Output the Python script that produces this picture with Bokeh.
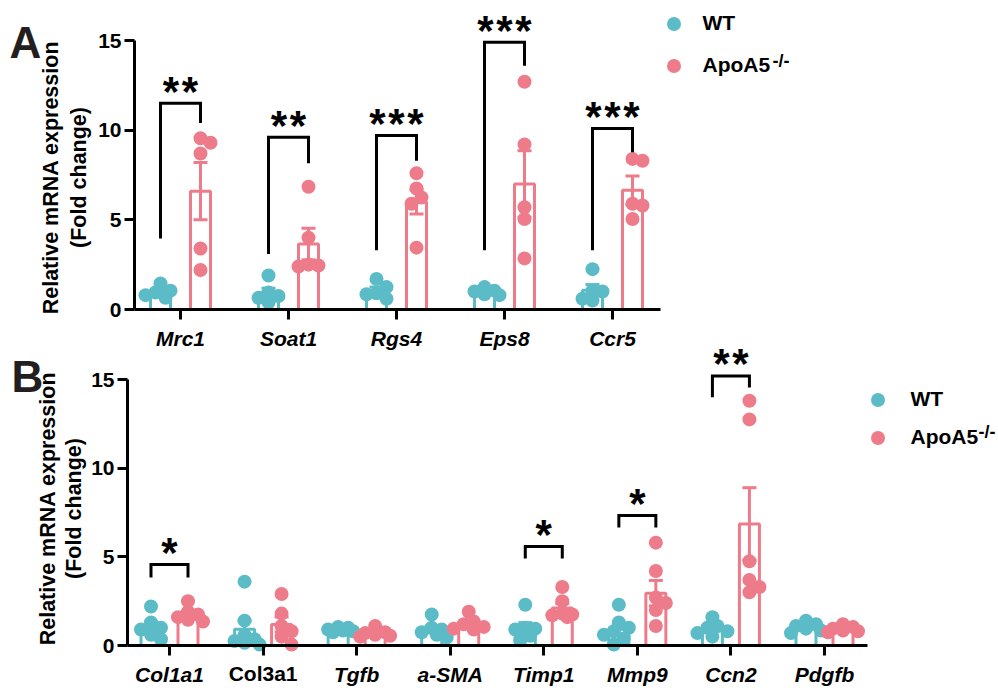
import numpy as np
from bokeh.plotting import figure
from bokeh.models import (Range1d, FixedTicker, Legend, LegendItem, Label, LinearAxis)
from bokeh.embed import file_html
from bokeh.resources import INLINE
from bokeh.core.properties import value

TEAL = "#5BBCC8"
PINK = "#EE7B8A"
FONT = "Liberation Sans"
W, H = 998, 688

# ---------------- Panel A data ----------------
genes_a = ["Mrc1", "Soat1", "Rgs4", "Eps8", "Ccr5"]
wt_a = [
    [1.45, 1.05, 0.95, 0.8, 0.65],
    [1.9, 0.95, 0.75, 0.65, 0.4],
    [1.7, 1.25, 0.9, 0.85, 0.6],
    [1.25, 1.05, 1.0, 0.85, 0.8],
    [2.25, 1.05, 1.0, 0.6, 0.5],
]
ko_a = [
    [9.55, 9.3, 8.7, 3.4, 2.2],
    [6.85, 4.0, 2.5, 2.45, 2.4],
    [7.6, 6.75, 6.25, 5.9, 3.45],
    [12.7, 9.2, 5.7, 5.05, 2.85],
    [8.4, 8.3, 5.9, 5.8, 5.05],
]
wt_mean_a = [0.98, 0.93, 1.06, 0.99, 1.08]
wt_sem_a = [0.14, 0.26, 0.19, 0.08, 0.31]
ko_mean_a = [6.6, 3.65, 6.0, 7.0, 6.65]
ko_sem_a = [1.6, 0.88, 0.68, 1.85, 0.8]
sig_a = [0, 1, 2, 3, 4]
br_left_a = [3.96, 3.1, 3.3, 3.3, 3.3]
br_top_a = [11.5, 9.6, 9.7, 14.9, 10.1]
br_right_a = [10.4, 8.15, 8.3, 13.6, 8.77]
stars_a = ["**", "**", "***", "***", "***"]

# ---------------- Panel B data ----------------
genes_b = ["Col1a1", "Col3a1", "Tgfb", "a-SMA", "Timp1", "Mmp9", "Ccn2", "Pdgfb"]
wt_b = [
    [2.2, 1.3, 1.0, 0.9, 0.6, 0.35],
    [3.6, 1.4, 0.6, 0.35, 0.25, 0.15, 0.05],
    [1.05, 1.0, 0.9, 0.85, 0.8, 0.75],
    [1.75, 1.0, 0.9, 0.75, 0.6, 0.45],
    [2.3, 1.0, 0.95, 0.9, 0.55, 0.3],
    [2.3, 1.3, 1.0, 0.8, 0.6, 0.4, 0.05],
    [1.6, 1.1, 1.0, 0.8, 0.7, 0.5],
    [1.4, 1.2, 1.1, 0.95, 0.85, 0.7],
]
ko_b = [
    [2.5, 1.9, 1.75, 1.6, 1.45, 1.35],
    [2.9, 1.8, 1.1, 0.8, 0.5, 0.05],
    [1.1, 0.75, 0.7, 0.6, 0.55, 0.5],
    [1.9, 1.35, 1.2, 1.05, 0.95, 0.9],
    [3.3, 2.5, 1.8, 1.75, 1.7, 1.6],
    [5.8, 4.2, 2.7, 2.4, 2.0, 1.1],
    [13.8, 12.75, 4.75, 3.7, 3.3, 3.0],
    [1.2, 1.05, 0.95, 0.85, 0.8, 0.75],
]
wt_mean_b = [1.06, 0.91, 0.89, 0.91, 1.0, 0.92, 0.95, 1.03]
wt_sem_b = [0.26, 0.48, 0.05, 0.19, 0.29, 0.28, 0.16, 0.1]
ko_mean_b = [1.76, 1.19, 0.7, 1.23, 2.11, 2.95, 6.85, 0.93]
ko_sem_b = [0.17, 0.42, 0.09, 0.15, 0.27, 0.72, 2.05, 0.07]
sig_b = [0, 4, 5, 6]
br_left_b = [3.83, 4.9, 6.66, 14.0]
br_top_b = [4.57, 5.58, 7.33, 15.2]
br_right_b = [3.83, 4.9, 6.66, 14.55]
stars_b = ["*", "*", "*", "**"]

y_ticks = [0, 5, 10, 15]
legend_labels = ["WT", "ApoA5"]
legend_sup = "-/-"
ylabel_lines = ["Relative mRNA expression", "(Fold change)"]

# ---------------- layout (page pixels) ----------------
LAY_A = dict(x_first=180, ppx=108.0, y_zero=309, ppy=17.93, axis_left=134, axis_right=660,
             dodge_px=20, bar_px=20, letter="A", letter_xy=(9, 42),
             ylab_x=(50, 78), ylab_y=177, leg_dot=(673, 23), leg_gap=42, leg_text_x=703,
             sup_xy=(772, 60))
LAY_B = dict(x_first=169, ppx=93.57, y_zero=645, ppy=17.733, axis_left=127, axis_right=867,
             dodge_px=18.5, bar_px=20, letter="B", letter_xy=(11, 376),
             ylab_x=(47, 73), ylab_y=508, leg_dot=(877, 399), leg_gap=38, leg_text_x=910,
             sup_xy=(978, 431))


def ranges(L):
    x0 = -L["x_first"] / L["ppx"]
    x1 = (W - L["x_first"]) / L["ppx"]
    y0 = -(H - L["y_zero"]) / L["ppy"]
    y1 = L["y_zero"] / L["ppy"]
    return Range1d(x0, x1), Range1d(y0, y1)


xa_rng, ya_rng = ranges(LAY_A)
xb_rng, yb_rng = ranges(LAY_B)

p = figure(width=W, height=H, x_range=xa_rng, y_range=ya_rng, x_axis_type=None,
           y_axis_type=None, min_border=0, output_backend="svg", toolbar_location=None)
p.extra_x_ranges = {"b": xb_rng}
p.extra_y_ranges = {"b": yb_rng}
p.outline_line_color = None
p.background_fill_color = "white"
p.border_fill_color = "white"


def swarm(vals, ppx, ppy, diam):
    """simple beeswarm offsets (data units) so that dots do not pile up"""
    step = 5.0
    cands = [0.0, step, -step, 2 * step, -2 * step, 3 * step, -3 * step]
    order = sorted(range(len(vals)), key=lambda i: -vals[i])
    placed = []
    offs = [0.0] * len(vals)
    for i in order:
        y = vals[i] * ppy
        chosen, best, bestd = None, 0.0, -1.0
        for c in cands:
            d = min([np.hypot(c - px, y - py) for px, py in placed], default=1e9)
            if d >= diam * 0.7:
                chosen = c
                break
            if d > bestd:
                bestd, best = d, c
        if chosen is None:
            chosen = best
        offs[i] = chosen
        placed.append((chosen, y))
    return [o / ppx for o in offs]


def draw_panel(rn, L, genes, wt, ko, wt_mean, wt_sem, ko_mean, ko_sem, sig, brl, brt, brr, stars):
    ppx, ppy = L["ppx"], L["ppy"]
    kw = dict(x_range_name=rn, y_range_name=rn)
    dodge = L["dodge_px"] / ppx
    bar_w = L["bar_px"] / ppx
    cap = 14.0 / ppx
    diam = 14
    n = len(genes)
    scat = {}
    for grp, vals, means, sems, col, sgn in [("wt", wt, wt_mean, wt_sem, TEAL, -1),
                                              ("ko", ko, ko_mean, ko_sem, PINK, 1)]:
        xs = [i + sgn * dodge for i in range(n)]
        p.vbar(x=xs, top=means, bottom=0, width=bar_w, fill_color="white",
               line_color=col, line_width=3, **kw)
        lo = [m - s for m, s in zip(means, sems)]
        hi = [m + s for m, s in zip(means, sems)]
        p.segment(x0=xs, y0=lo, x1=xs, y1=hi, line_color=col, line_width=3, **kw)
        for yy in (hi, lo):
            p.segment(x0=[x - cap / 2 for x in xs], y0=yy, x1=[x + cap / 2 for x in xs], y1=yy,
                      line_color=col, line_width=3, **kw)
        px, py = [], []
        for i, v in enumerate(vals):
            offs = swarm(v, ppx, ppy, diam)
            px += [xs[i] + o for o in offs]
            py += list(v)
        scat[grp] = p.scatter(x=px, y=py, size=diam, fill_color=col, line_color=None, **kw)

    # significance brackets and stars
    bx, by = [], []
    for k, i in enumerate(sig):
        bx.append([i - dodge, i - dodge, i + dodge, i + dodge])
        by.append([brl[k], brt[k], brt[k], brr[k]])
    p.multi_line(xs=bx, ys=by, line_color="black", line_width=3, line_join="miter", **kw)
    sx, sy, so, st = [], [], [], []
    for k, i in enumerate(sig):
        m = len(stars[k])
        for j in range(m):
            sx.append(i)
            sy.append(brt[k])
            so.append((j - (m - 1) / 2) * 19)
            st.append("*")
    p.text(x=sx, y=sy, text=st, x_offset=so, y_offset=-12, text_font=value(FONT),
           text_font_size="42px", text_font_style="bold", text_align="center",
           text_baseline="alphabetic", text_color="black", **kw)

    # axes
    xl = (L["axis_left"] - L["x_first"]) / ppx
    xr = (L["axis_right"] - L["x_first"]) / ppx
    xa = LinearAxis(fixed_location=0, bounds=(xl, xr), ticker=FixedTicker(ticks=list(range(n))),
                    major_label_overrides={i: g for i, g in enumerate(genes)}, **kw)
    ya = LinearAxis(fixed_location=xl, bounds=(0, 15), ticker=FixedTicker(ticks=y_ticks), **kw)
    for ax in (xa, ya):
        ax.axis_line_width = 3
        ax.axis_line_color = "black"
        ax.major_tick_line_width = 3
        ax.major_tick_line_color = "black"
        ax.major_tick_out = 10
        ax.major_tick_in = 0
        ax.minor_tick_out = 0
        ax.minor_tick_in = 0
        ax.major_label_text_font = FONT
        ax.major_label_text_font_size = "21px"
        ax.major_label_text_color = "black"
    xa.major_label_text_font_style = "bold italic"
    xa.major_label_standoff = 7
    ya.major_label_text_font_style = "bold"
    ya.major_label_standoff = 3
    p.add_layout(xa, "below")
    p.add_layout(ya, "left")

    # y-axis title (two lines)
    for line, lx in zip(ylabel_lines, L["ylab_x"]):
        p.add_layout(Label(x=lx, y=H - L["ylab_y"], x_units="screen", y_units="screen",
                           text=line, angle=np.pi / 2, text_font=FONT, text_font_size="21.5px",
                           text_font_style="bold", text_color="black",
                           text_align="center", text_baseline="middle"))

    # legend
    dx, dy = L["leg_dot"]
    gs = 35
    spacing = L["leg_gap"] - gs
    leg_h = 2 * gs + spacing
    leg = Legend(items=[LegendItem(label=legend_labels[0], renderers=[scat["wt"]]),
                        LegendItem(label=legend_labels[1], renderers=[scat["ko"]])],
                 location=(dx - gs / 2, H - (dy - gs / 2) - leg_h), orientation="vertical",
                 glyph_width=gs, glyph_height=gs,
                 label_standoff=int(round(L["leg_text_x"] - (dx + gs / 2))),
                 spacing=spacing, padding=0, margin=0,
                 border_line_color=None, background_fill_alpha=0,
                 label_text_font=FONT, label_text_font_size="21px",
                 label_text_font_style="bold", label_text_color="black")
    p.add_layout(leg)
    p.add_layout(Label(x=L["sup_xy"][0], y=H - L["sup_xy"][1], x_units="screen", y_units="screen",
                       text=legend_sup, text_font=FONT, text_font_size="18px",
                       text_font_style="bold", text_color="black",
                       text_baseline="middle", text_align="left"))
    # panel letter
    p.add_layout(Label(x=L["letter_xy"][0], y=H - L["letter_xy"][1], x_units="screen",
                       y_units="screen", text=L["letter"], text_font=FONT,
                       text_font_size="44px", text_font_style="bold", text_color="#231F20",
                       text_baseline="alphabetic", text_align="left"))
    return xa


draw_panel("default", LAY_A, genes_a, wt_a, ko_a, wt_mean_a, wt_sem_a, ko_mean_a, ko_sem_a,
           sig_a, br_left_a, br_top_a, br_right_a, stars_a)
xb_axis = draw_panel("b", LAY_B, genes_b, wt_b, ko_b, wt_mean_b, wt_sem_b, ko_mean_b, ko_sem_b,
                     sig_b, br_left_b, br_top_b, br_right_b, stars_b)

# Col3a1 is set upright in the reference: blank it on the axis and write it upright
xb_axis.major_label_overrides = {i: (g if g != "Col3a1" else " ") for i, g in enumerate(genes_b)}
p.add_layout(Label(x=genes_b.index("Col3a1"), y=H - 673, x_units="data", y_units="screen",
                   x_range_name="b", text="Col3a1", text_font=FONT, text_font_size="21px",
                   text_font_style="bold", text_color="black", text_align="center",
                   text_baseline="middle"))

open("out.html", "w").write(file_html(p, INLINE))
